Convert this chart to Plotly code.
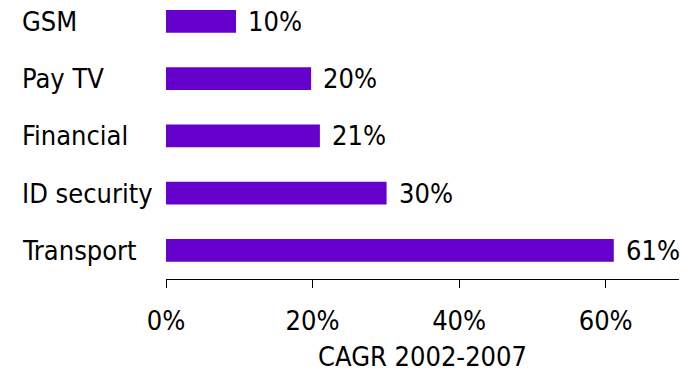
import plotly.graph_objects as go

categories = ["Transport", "ID security", "Financial", "Pay TV", "GSM"]
values = [61.1, 30.1, 21.0, 19.8, 9.55]
labels = ["61%", "30%", "21%", "20%", "10%"]
tick_vals = [0, 20, 40, 60]
tick_text = ["0%", "20%", "40%", "60%"]

FONT = "DejaVu Sans Condensed, DejaVu Sans"
FS = 27

fig = go.Figure(go.Bar(
    x=values, y=categories, orientation="h",
    marker=dict(color="#6600CC", line=dict(width=0)),
    width=0.4,
))

for c, v, t in zip(categories, values, labels):
    fig.add_annotation(x=v, y=c, text=t, showarrow=False, xanchor="left",
                       xshift=10, font=dict(family=FONT, size=FS, color="#000"))
    # left-aligned category labels
    fig.add_annotation(x=-146 / 513, xref="paper", y=c, text=c, showarrow=False,
                       xanchor="left", font=dict(family=FONT, size=FS, color="#000"))

fig.update_layout(
    width=697, height=372,
    margin=dict(l=166, r=18, t=0, b=93),
    paper_bgcolor="white", plot_bgcolor="white",
    showlegend=False,
    font=dict(family=FONT, size=FS, color="#000"),
    xaxis=dict(range=[0, 70], tickvals=tick_vals, ticktext=tick_text,
               showgrid=False, zeroline=False, showline=True,
               linecolor="#000", linewidth=1, ticks="outside", ticklen=8,
               tickcolor="#000", tickfont=dict(size=FS), ticklabelstandoff=10,
               title=dict(text="CAGR 2002-2007", font=dict(size=FS), standoff=16)),
    yaxis=dict(type="category", range=[-0.5, 4.373], showgrid=False,
               zeroline=False, showline=False, ticks="", showticklabels=False),
)

fig.write_html("out.html")
